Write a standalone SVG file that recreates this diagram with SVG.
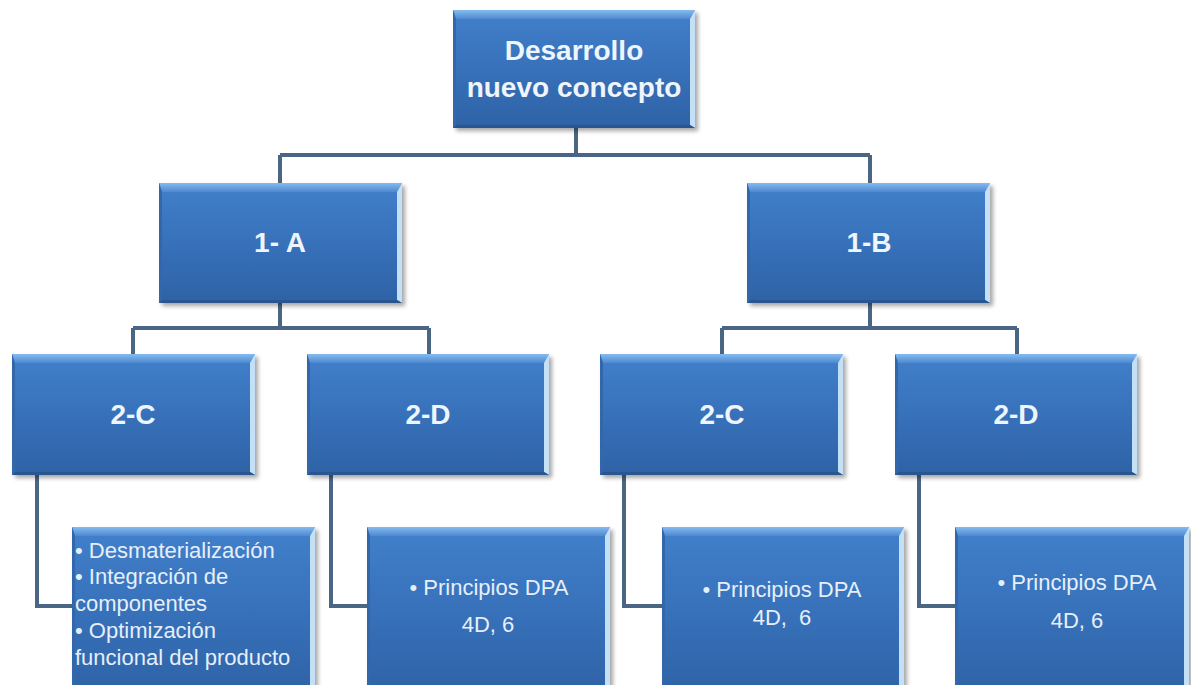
<svg xmlns="http://www.w3.org/2000/svg" width="1191" height="685" viewBox="0 0 1191 685">
<style>
.conn{fill:none;stroke:#4B6584;stroke-width:4;stroke-linejoin:miter}
.sh{fill:#000;opacity:.35;filter:url(#blur)}
.body{fill:url(#gBody)}
.bt{fill:url(#gTop)}
.br{fill:#C3E0F6}
.bb{fill:#29568F}
.bl{fill:#3467AA}
.t{font-family:"Liberation Sans",Arial,sans-serif;font-weight:bold;font-size:28px;fill:#EEF5FC;text-anchor:middle}
.s{font-family:"Liberation Sans",Arial,sans-serif;font-size:22px;fill:#E6EFF9}
.c{text-anchor:middle}
</style>
<defs>
<linearGradient id="gBody" x1="0" y1="0" x2="0" y2="1">
<stop offset="0" stop-color="#4280CB"/>
<stop offset="0.5" stop-color="#3771BA"/>
<stop offset="1" stop-color="#2E62A5"/>
</linearGradient>
<linearGradient id="gTop" x1="0" y1="0" x2="0" y2="1">
<stop offset="0" stop-color="#86BBF0"/>
<stop offset="1" stop-color="#4D89D1"/>
</linearGradient>
<filter id="blur" x="-10%" y="-10%" width="120%" height="120%"><feGaussianBlur stdDeviation="2"/></filter>
</defs>
<rect width="1191" height="685" fill="#FFFFFF"/>
<g id="connectors">
<path class="conn" d="M576 128V155M280 155H870M280 155V183M870 155V183"/>
<path class="conn" d="M280 303V328M133 328H429M133 328V354M429 328V354"/>
<path class="conn" d="M870 303V328M722 328H1017M722 328V354M1017 328V354"/>
<path class="conn" d="M37 475V606H72M331 475V606H367M624 475V606H662M919 475V606H955"/>
</g>
<g id="root">
<rect class="sh" x="456" y="13" width="242" height="118"/>
<rect class="body" x="453" y="10" width="242" height="118"/>
<polygon class="bt" points="453,10 695,10 690,19 456,19"/>
<polygon class="br" points="695,10 695,128 690,125 690,19"/>
<polygon class="bb" points="453,128 695,128 690,125 456,125"/>
<polygon class="bl" points="453,10 456,19 456,125 453,128"/>
<text class="t" x="574" y="60">Desarrollo</text>
<text class="t" x="574" y="97">nuevo concepto</text>
</g>
<g id="n1A">
<rect class="sh" x="162" y="186" width="243" height="120"/>
<rect class="body" x="159" y="183" width="243" height="120"/>
<polygon class="bt" points="159,183 402,183 397,192 162,192"/>
<polygon class="br" points="402,183 402,303 397,300 397,192"/>
<polygon class="bb" points="159,303 402,303 397,300 162,300"/>
<polygon class="bl" points="159,183 162,192 162,300 159,303"/>
<text class="t" x="280" y="252">1- A</text>
</g>
<g id="n1B">
<rect class="sh" x="750" y="186" width="243" height="120"/>
<rect class="body" x="747" y="183" width="243" height="120"/>
<polygon class="bt" points="747,183 990,183 985,192 750,192"/>
<polygon class="br" points="990,183 990,303 985,300 985,192"/>
<polygon class="bb" points="747,303 990,303 985,300 750,300"/>
<polygon class="bl" points="747,183 750,192 750,300 747,303"/>
<text class="t" x="869" y="252">1-B</text>
</g>
<g id="n2C_left">
<rect class="sh" x="15" y="357" width="243" height="121"/>
<rect class="body" x="12" y="354" width="243" height="121"/>
<polygon class="bt" points="12,354 255,354 250,363 15,363"/>
<polygon class="br" points="255,354 255,475 250,472 250,363"/>
<polygon class="bb" points="12,475 255,475 250,472 15,472"/>
<polygon class="bl" points="12,354 15,363 15,472 12,475"/>
<text class="t" x="133" y="424">2-C</text>
</g>
<g id="n2D_left">
<rect class="sh" x="310" y="357" width="242" height="121"/>
<rect class="body" x="307" y="354" width="242" height="121"/>
<polygon class="bt" points="307,354 549,354 544,363 310,363"/>
<polygon class="br" points="549,354 549,475 544,472 544,363"/>
<polygon class="bb" points="307,475 549,475 544,472 310,472"/>
<polygon class="bl" points="307,354 310,363 310,472 307,475"/>
<text class="t" x="428" y="424">2-D</text>
</g>
<g id="n2C_right">
<rect class="sh" x="603" y="357" width="243" height="121"/>
<rect class="body" x="600" y="354" width="243" height="121"/>
<polygon class="bt" points="600,354 843,354 838,363 603,363"/>
<polygon class="br" points="843,354 843,475 838,472 838,363"/>
<polygon class="bb" points="600,475 843,475 838,472 603,472"/>
<polygon class="bl" points="600,354 603,363 603,472 600,475"/>
<text class="t" x="722" y="424">2-C</text>
</g>
<g id="n2D_right">
<rect class="sh" x="898" y="357" width="242" height="121"/>
<rect class="body" x="895" y="354" width="242" height="121"/>
<polygon class="bt" points="895,354 1137,354 1132,363 898,363"/>
<polygon class="br" points="1137,354 1137,475 1132,472 1132,363"/>
<polygon class="bb" points="895,475 1137,475 1132,472 898,472"/>
<polygon class="bl" points="895,354 898,363 898,472 895,475"/>
<text class="t" x="1016" y="424">2-D</text>
</g>
<g id="leaf1">
<rect class="sh" x="75" y="530" width="243" height="170"/>
<rect class="body" x="72" y="527" width="243" height="170"/>
<polygon class="bt" points="72,527 315,527 310,536 75,536"/>
<polygon class="br" points="315,527 315,697 310,694 310,536"/>
<polygon class="bl" points="72,527 75,536 75,694 72,697"/>
<text class="s" x="75" y="558">• Desmaterialización</text>
<text class="s" x="75" y="584">• Integración de</text>
<text class="s" x="75" y="611">componentes</text>
<text class="s" x="75" y="638">• Optimización</text>
<text class="s" x="75" y="665">funcional del producto</text>
</g>
<g id="leaf2">
<rect class="sh" x="370" y="530" width="243" height="170"/>
<rect class="body" x="367" y="527" width="243" height="170"/>
<polygon class="bt" points="367,527 610,527 605,536 370,536"/>
<polygon class="br" points="610,527 610,697 605,694 605,536"/>
<polygon class="bl" points="367,527 370,536 370,694 367,697"/>
<text class="s c" x="489" y="595">• Principios DPA</text>
<text class="s c" x="488" y="632">4D, 6</text>
</g>
<g id="leaf3">
<rect class="sh" x="665" y="530" width="242" height="170"/>
<rect class="body" x="662" y="527" width="242" height="170"/>
<polygon class="bt" points="662,527 904,527 899,536 665,536"/>
<polygon class="br" points="904,527 904,697 899,694 899,536"/>
<polygon class="bl" points="662,527 665,536 665,694 662,697"/>
<text class="s c" x="782" y="597">• Principios DPA</text>
<text class="s c" x="782" y="625">4D,&#160; 6</text>
</g>
<g id="leaf4">
<rect class="sh" x="958" y="530" width="234" height="170"/>
<rect class="body" x="955" y="527" width="234" height="170"/>
<polygon class="bt" points="955,527 1189,527 1184,536 958,536"/>
<polygon class="br" points="1189,527 1189,697 1184,694 1184,536"/>
<polygon class="bl" points="955,527 958,536 958,694 955,697"/>
<text class="s c" x="1077" y="590">• Principios DPA</text>
<text class="s c" x="1077" y="628">4D, 6</text>
</g>
</svg>
